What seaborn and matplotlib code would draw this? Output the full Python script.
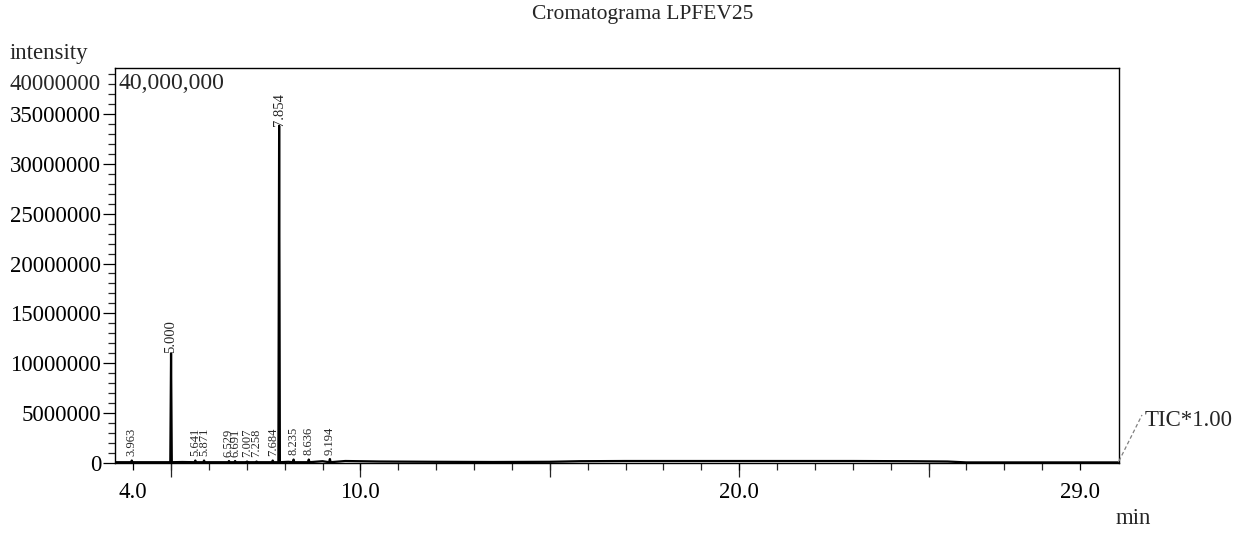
import numpy as np
import pandas as pd
import matplotlib
matplotlib.use("Agg")
import matplotlib.pyplot as plt
import seaborn as sns

# ---- data ----
peak_rt = [3.963, 5.000, 5.641, 5.871, 6.529, 6.691, 7.007, 7.258, 7.684, 7.854, 8.235, 8.636, 9.194]
peak_height = [0.25e6, 11.0e6, 0.25e6, 0.25e6, 0.2e6, 0.2e6, 0.15e6, 0.15e6, 0.25e6, 33.8e6, 0.35e6, 0.35e6, 0.4e6]
peak_labels = ["3.963", "5.000", "5.641", "5.871", "6.529", "6.691", "7.007", "7.258", "7.684", "7.854", "8.235", "8.636", "9.194"]

baseline_t = [3.52, 4.8, 5.3, 6.2, 7.5, 8.1, 9.0, 9.6, 10.5, 12.0, 13.5, 15.0, 15.8, 17.0, 18.5, 20.0, 21.5, 23.0, 24.5, 25.5, 26.0, 30.0]
baseline_y = [0.08e6, 0.08e6, 0.1e6, 0.08e6, 0.08e6, 0.12e6, 0.18e6, 0.2e6, 0.15e6, 0.12e6, 0.1e6, 0.12e6, 0.18e6, 0.2e6, 0.2e6, 0.2e6, 0.2e6, 0.2e6, 0.18e6, 0.15e6, 0.06e6, 0.06e6]

ytick_values = [0, 5e6, 10e6, 15e6, 20e6, 25e6, 30e6, 35e6]
ytick_labels = ["0", "5000000", "10000000", "15000000", "20000000", "25000000", "30000000", "35000000"]
xtick_values = [4.0, 10.0, 20.0, 29.0]
xtick_labels = ["4.0", "10.0", "20.0", "29.0"]
long_xticks = [5, 10, 15, 20, 25]

title = "Cromatograma LPFEV25"
scale_text = "40,000,000"
top_ylabel = "40000000"

# ---- build the trace from baseline points and peaks ----
pts_t = list(baseline_t)
pts_y = list(baseline_y)
foot = 0.08e6
for rt, h in zip(peak_rt, peak_height):
    pts_t += [rt - 0.02, rt, rt + 0.02]
    pts_y += [foot, h, foot]
trace = pd.DataFrame({"t": pts_t, "y": pts_y}).sort_values("t").reset_index(drop=True)

sns.set_style("ticks")
plt.rcParams["font.family"] = ["Liberation Serif", "DejaVu Serif"]

fig = plt.figure(figsize=(12.35, 5.33), dpi=100)
ax = fig.add_axes([115 / 1235, 1 - 463 / 533, (1119 - 115) / 1235, (463 - 68) / 533])

sns.lineplot(data=trace, x="t", y="y", ax=ax, color="black", linewidth=1.6,
             estimator=None, sort=False)

ax.set_xlim(3.52, 30.03)
ax.set_ylim(0, 39.6e6)

for sp in ax.spines.values():
    sp.set_visible(True)
    sp.set_linewidth(1.0)
    sp.set_color("black")

ax.set_xticks(xtick_values)
ax.set_xticklabels(xtick_labels)
ax.set_xticks(np.arange(4, 30, 1.0), minor=True)
ax.set_yticks(ytick_values)
ax.set_yticklabels(ytick_labels)
ax.set_yticks(np.arange(0, 39.6e6, 1e6), minor=True)

ax.tick_params(axis="x", which="major", length=5, width=0.9, direction="out",
               labelsize=16.5, pad=9, colors="black")
ax.tick_params(axis="x", which="minor", length=5, width=0.9, direction="out")
ax.tick_params(axis="y", which="major", length=9, width=0.9, direction="out",
               labelsize=16.5, pad=1, colors="black")
ax.tick_params(axis="y", which="minor", length=5, width=0.9, direction="out")

sec = ax.secondary_xaxis("bottom")
sec.set_xticks(long_xticks)
sec.tick_params(length=10, width=0.9, direction="out", labelbottom=False)
for sp in sec.spines.values():
    sp.set_visible(False)

ax.set_xlabel("")
ax.set_ylabel("")

# peak labels
for rt, h, lab in zip(peak_rt, peak_height, peak_labels):
    big = h > 5e6
    ax.annotate(lab, (rt, h), xytext=(0, 0 if big else 3), textcoords="offset points",
                rotation=90, ha="center", va="bottom", fontsize=10.5 if big else 9)

# scale / axis texts
ax.text(0.003, 0.962, scale_text, transform=ax.transAxes, ha="left", va="center", fontsize=17)
ax.text(-0.014, 37.9e6, top_ylabel, transform=ax.get_yaxis_transform(), ha="right",
        va="center", fontsize=16.5)
fig.text(643 / 1235, 1 - 15 / 533, title, ha="center", va="center", fontsize=15.5)
fig.text(10 / 1235, 1 - 53 / 533, "intensity", ha="left", va="center", fontsize=16.5)
fig.text(1133 / 1235, 1 - 518 / 533, "min", ha="center", va="center", fontsize=16.5)
fig.text(1145 / 1235, 1 - 420 / 533, "TIC*1.00", ha="left", va="center", fontsize=16.5)
fig.add_artist(plt.Line2D([1119 / 1235, 1142 / 1235], [1 - 461 / 533, 1 - 415 / 533],
                          transform=fig.transFigure, color="gray", linestyle=(0, (3, 2)),
                          linewidth=0.9))

fig.savefig("out.png", dpi=100)
